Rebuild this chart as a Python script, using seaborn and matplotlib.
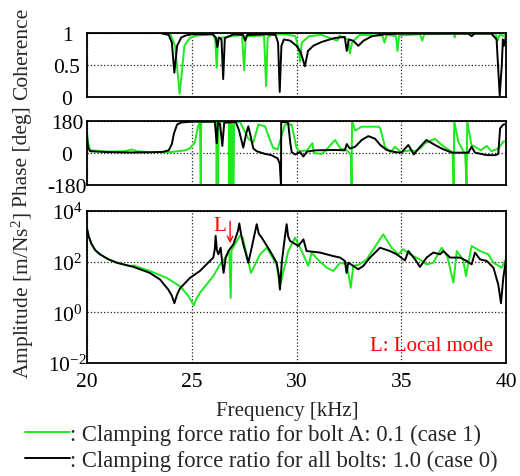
import matplotlib
matplotlib.use("Agg")
import matplotlib.pyplot as plt
import numpy as np
import pandas as pd
import seaborn as sns

# ---------------- data ----------------
x_ticks = [20, 25, 30, 35, 40]
case_names = [": Clamping force ratio for bolt A: 0.1 (case 1)",
              ": Clamping force ratio for all bolts: 1.0 (case 0)"]

# Coherence
coh_f_case1 = [20.0, 23.8, 24.0, 24.2, 24.35, 24.42, 24.5, 24.65, 24.9, 25.2, 26.0, 26.12, 26.19, 26.26,
               27.4, 27.5, 27.58, 28.45, 28.55, 28.62, 28.8, 29.5, 29.95, 30.1, 30.17, 30.25, 30.6, 31.2,
               31.95, 32.05, 32.45, 32.55, 32.65, 32.8, 33.0, 34.1, 34.2, 34.3, 34.75, 34.82, 34.9, 35.9,
               36.0, 36.1, 37.5, 37.55, 37.6, 39.5, 39.6, 39.7, 39.9, 40.0]
coh_v_case1 = [1.0, 1.0, 0.97, 0.8, 0.3, 0.05, 0.3, 0.8, 0.92, 0.96, 0.98, 0.9, 0.46, 0.92,
               0.97, 0.42, 0.95, 0.96, 0.17, 0.92, 0.98, 0.98, 0.95, 0.75, 0.55, 0.85, 0.95, 0.97,
               0.88, 0.96, 0.9, 0.68, 0.85, 0.9, 0.97, 0.96, 0.85, 0.97, 0.95, 0.72, 0.96, 0.98,
               0.88, 0.98, 0.99, 0.93, 0.99, 0.99, 0.88, 0.98, 0.95, 0.99]
coh_f_case0 = [20.0, 23.5, 23.9, 24.05, 24.17, 24.3, 24.5, 24.7, 25.0, 26.0, 26.15, 26.22, 26.3, 26.42,
               26.5, 26.58, 27.0, 27.45, 27.55, 27.65, 28.5, 29.0, 29.12, 29.2, 29.28, 29.4, 29.7, 30.0,
               30.2, 30.4, 30.55, 30.8, 31.2, 31.8, 32.3, 32.4, 32.5, 32.7, 32.95, 33.2, 33.6, 34.2,
               35.0, 38.2, 38.36, 38.5, 39.3, 39.55, 39.7, 39.8, 39.85, 39.9, 40.0]
coh_v_case0 = [1.0, 1.0, 0.97, 0.85, 0.38, 0.8, 0.93, 0.96, 0.98, 0.98, 0.93, 0.78, 0.93, 0.9,
               0.28, 0.92, 0.98, 0.97, 0.88, 0.97, 0.98, 0.97, 0.85, 0.08, 0.8, 0.9, 0.88, 0.8,
               0.7, 0.48, 0.72, 0.8, 0.86, 0.92, 0.94, 0.72, 0.9, 0.88, 0.8, 0.88, 0.95, 0.98,
               0.99, 0.99, 0.95, 0.99, 0.99, 0.9, 0.02, 0.5, 0.9, 0.8, 0.95]

# Phase [deg]
ph_f_case1 = [20.0, 20.05, 20.15, 21.0, 21.8, 22.13, 22.4, 23.0, 24.0, 24.68, 24.9, 25.15, 25.3, 25.39,
              25.43, 25.45, 26.17, 26.19, 26.21, 26.26, 26.28, 26.78, 26.8, 26.82, 26.9, 26.92, 27.0,
              27.02, 27.3, 27.54, 27.7, 27.94, 28.18, 28.5, 28.65, 28.88, 29.1, 29.3, 29.45, 29.77,
              30.0, 30.05, 30.17, 30.5, 30.76, 30.83, 31.2, 31.36, 31.84, 32.1, 32.4, 32.6, 32.63,
              32.65, 32.8, 33.11, 33.91, 34.0, 34.22, 34.5, 34.7, 35.0, 35.42, 35.66, 35.95, 36.13,
              36.61, 36.93, 37.3, 37.45, 37.5, 37.53, 37.72, 38.05, 38.12, 38.15, 38.35, 38.52, 38.8,
              39.08, 39.3, 39.63, 39.87, 40.0]
ph_v_case1 = [120, 60, 15, 8, 10, 20, 10, 5, 5, 15, 25, 60, 150, 172,
              -180, 175, 176, -180, 176, -180, 176, 176, -180, 176, -180, 176, -180,
              176, 175, 120, 80, 60, 160, 150, 100, 30, 20, 100, 160, 160,
              30, 20, 10, 15, 55, 0, -5, 10, 73, 25, 15, -10, -180,
              180, 126, 148, 148, 139, 35, 5, 35, 5, 15, 10, 30, 55,
              80, 45, 15, 5, -180, 180, 65, -10, -180, 180, 45, 35, 15,
              40, 10, 25, 65, 65]
ph_f_case0 = [20.0, 20.05, 20.15, 21.0, 22.0, 23.0, 23.6, 23.9, 24.05, 24.15, 24.3, 24.5, 25.0, 26.1,
              26.19, 26.25, 26.35, 26.46, 26.55, 27.1, 27.25, 27.46, 27.6, 27.7, 27.8, 27.94, 28.1,
              28.5, 28.8, 29.1, 29.2, 29.26, 29.27, 29.6, 29.7, 29.77, 29.93, 30.17, 30.33, 30.5,
              30.9, 31.84, 32.3, 32.4, 32.55, 32.8, 33.11, 33.43, 33.75, 34.0, 34.3, 34.7, 35.0,
              35.34, 35.6, 35.9, 36.2, 36.61, 36.93, 37.41, 38.2, 38.36, 38.52, 39.08, 39.5, 39.63,
              39.72, 39.87, 40.0]
ph_v_case0 = [90, 30, 10, 5, 3, 4, 6, 15, 50, 110, 160, 172, 176, 176,
              55, 170, 165, 40, 170, 175, 130, 30, 110, 150, 100, 25, 10,
              -5, -12, -30, -60, -180, 175, 172, 60, 5, -8, 5, -20, 8,
              15, 17, 15, 50, 25, 35, 73, 95, 80, 45, 17, 5, 2,
              45, -8, 35, 73, 45, 25, 2, 2, 35, 2, -12, -12, -5,
              139, 160, 162]

# Amplitude [m/Ns^2]
amp_f_case1 = [20.0, 20.08, 20.22, 20.4, 20.62, 21.0, 21.42, 22.05, 22.2, 23.0, 23.8, 24.44, 24.84, 25.1,
               25.2, 25.39, 26.03, 26.35, 26.5, 26.79, 26.86, 26.9, 27.3, 27.43, 27.83, 28.26, 28.58,
               29.05, 29.21, 29.61, 29.93, 30.25, 30.56, 30.72, 31.0, 31.44, 31.76, 32.08, 32.4, 32.59,
               32.71, 33.0, 33.35, 33.83, 34.14, 34.54, 34.86, 35.1, 35.42, 35.89, 36.21, 36.53, 36.93,
               37.2, 37.49, 37.65, 37.95, 38.09, 38.2, 38.36, 38.76, 39.16, 39.4, 39.79, 40.0]
amp_v_case1 = [2040, 1000, 490, 280, 195, 126, 91, 66, 71, 43, 23, 10.7, 4.4, 1.9,
               3.2, 5.9, 27, 78, 105, 263, 3.7, 280, 1050, 890, 36, 195, 355,
               78, 10.7, 263, 890, 263, 68, 229, 126, 58, 43, 91, 79, 9.3,
               68, 78, 123, 490, 1200, 355, 195, 309, 195, 123, 78, 91, 355,
               158, 14.8, 263, 123, 27, 91, 417, 263, 195, 91, 58, 123]
amp_f_case0 = [20.0, 20.08, 20.22, 20.4, 20.62, 21.0, 21.42, 22.2, 23.0, 23.48, 23.88, 24.05, 24.17, 24.3,
               24.44, 24.92, 25.39, 26.03, 26.1, 26.14, 26.2, 26.27, 26.38, 26.45, 26.52, 26.62, 26.75,
               26.99, 27.2, 27.27, 27.35, 27.46, 27.7, 27.9, 28.1, 28.2, 28.34, 28.74, 29.05, 29.15,
               29.21, 29.3, 29.45, 29.53, 29.6, 29.69, 30.09, 30.33, 30.48, 31.12, 31.76, 32.08, 32.31,
               32.39, 32.47, 32.71, 32.95, 33.19, 33.51, 33.99, 34.46, 34.78, 35.18, 35.34, 35.66, 35.89,
               36.21, 36.53, 36.85, 37.01, 37.33, 37.8, 38.12, 38.36, 38.52, 38.76, 39.08, 39.4, 39.63,
               39.76, 39.87, 40.0]
amp_v_case0 = [2040, 1000, 490, 280, 195, 126, 91, 63, 36, 20, 7.9, 4.5, 2.3, 5.0,
               8.9, 23, 43, 145, 316, 1050, 280, 195, 355, 100, 36, 145, 263,
               490, 1580, 3240, 1260, 490, 91, 500, 3020, 1260, 890, 263, 91, 32,
               7.9, 100, 1000, 3020, 1000, 660, 417, 760, 263, 229, 166, 145, 107,
               36, 91, 68, 50, 68, 145, 355, 263, 195, 112, 263, 123, 62,
               145, 229, 195, 263, 145, 145, 107, 78, 229, 123, 107, 58, 12.6,
               2.3, 23, 123]


def long_df(f1, v1, f0, v0):
    return pd.concat([
        pd.DataFrame({"freq": f1, "val": v1, "case": case_names[0]}),
        pd.DataFrame({"freq": f0, "val": v0, "case": case_names[1]}),
    ], ignore_index=True)


df_coh = long_df(coh_f_case1, coh_v_case1, coh_f_case0, coh_v_case0)
df_ph = long_df(ph_f_case1, ph_v_case1, ph_f_case0, ph_v_case0)
df_amp = long_df(amp_f_case1, amp_v_case1, amp_f_case0, amp_v_case0)

# ---------------- style ----------------
sns.set_theme(style="white")
plt.rcParams["font.family"] = ["Liberation Serif", "DejaVu Serif"]
plt.rcParams["mathtext.fontset"] = "custom"
plt.rcParams["mathtext.rm"] = "Liberation Serif"
plt.rcParams["mathtext.it"] = "Liberation Serif:italic"
FS_TICK = 15.5
FS_YLAB = 15.5
FS_XLAB = 15
FS_LEG = 16.3
FS_ANN = 15
palette = {case_names[0]: "#1ee81e", case_names[1]: "#000000"}

fig = plt.figure(figsize=(5.2, 4.77), dpi=100)
W, H = 520.0, 477.0
L, R = 87, 506


def add_ax(top, bottom):
    return fig.add_axes([L / W, 1 - bottom / H, (R - L) / W, (bottom - top) / H])


ax_c = add_ax(34, 98)
ax_p = add_ax(122, 186)
ax_a = add_ax(212, 364)

for ax, df in [(ax_c, df_coh), (ax_p, df_ph), (ax_a, df_amp)]:
    sns.lineplot(data=df, x="freq", y="val", hue="case", hue_order=case_names,
                 palette=palette, estimator=None, sort=False, linewidth=1.4,
                 ax=ax, legend=(ax is ax_a))

ax_a.set_yscale("log")

ax_c.set_ylim(0, 1)
ax_c.set_yticks([0, 0.5, 1])
ax_c.set_yticklabels(["0", "0.5", "1"])
ax_p.set_ylim(-180, 180)
ax_p.set_yticks([-180, 0, 180])
ax_p.set_yticklabels(["-180", "0", "180"])
ax_a.set_ylim(1e-2, 1e4)
ax_a.set_yticks([1e-2, 1e0, 1e2, 1e4])
ax_a.set_yticklabels([r"$10^{-2}$", r"$10^{0}$", r"$10^{2}$", r"$10^{4}$"])
ax_a.minorticks_off()

for ax in (ax_c, ax_p, ax_a):
    ax.set_xlim(20, 40)
    ax.set_xticks(x_ticks)
    ax.grid(True, which="major", linestyle=":", color="#222222", linewidth=0.9)
    for s in ax.spines.values():
        s.set_color("black")
        s.set_linewidth(1.3)
    ax.tick_params(axis="both", direction="in", length=3, labelsize=FS_TICK, colors="black")
    ax.tick_params(axis="y", pad=14.4)
    for lab in ax.get_yticklabels():
        lab.set_horizontalalignment("center")
    ax.set_xlabel("")
    ax.set_ylabel("")

for ax in (ax_c, ax_p):
    ax.tick_params(axis="x", labelbottom=False)
ax_a.tick_params(axis="x", pad=6.5)

ax_c.set_ylabel("Coherence", fontsize=FS_YLAB)
ax_p.set_ylabel("Phase [deg]", fontsize=FS_YLAB)
ax_a.set_ylabel(r"Amplitude [m/Ns$^2$]", fontsize=FS_YLAB)
lx = (23 - L) / (R - L)
ax_c.yaxis.set_label_coords(lx, (98 - 54) / 64)
ax_p.yaxis.set_label_coords(lx, (186 - 157) / 64)
ax_a.yaxis.set_label_coords(lx, (364 - 296) / 152)
for ax in (ax_c, ax_p, ax_a):
    ax.yaxis.label.set_verticalalignment("center")

ax_a.set_xlabel("Frequency [kHz]", fontsize=FS_XLAB)
ax_a.xaxis.set_label_coords(0.477, -0.25)

# annotations
ax_a.annotate("", xy=(26.83, 10 ** 2.62), xytext=(26.83, 10 ** 3.7),
              arrowprops=dict(arrowstyle="->", color="red", lw=1.0, mutation_scale=10))
ax_a.text(26.35, 10 ** 3.44, "L", color="red", fontsize=FS_ANN, ha="center", va="center")
ax_a.text(0.823, 0.112, "L: Local mode", color="red", fontsize=FS_ANN, ha="center", va="center",
          transform=ax_a.transAxes)

# legend under the chart
handles, labels = ax_a.get_legend_handles_labels()
ax_a.get_legend().remove()
fig.legend(handles, labels, loc="upper left", bbox_to_anchor=(25 / W, 1 - 425 / H),
           frameon=False, fontsize=FS_LEG, handlelength=2.0, handletextpad=0.0,
           borderpad=0, borderaxespad=0, labelspacing=0.2)

fig.savefig("out.png", dpi=100)
